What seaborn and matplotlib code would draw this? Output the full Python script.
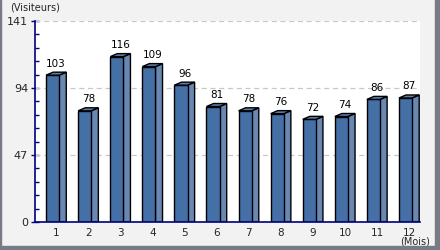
import matplotlib
matplotlib.use("Agg")
import matplotlib.pyplot as plt
from matplotlib.patches import Polygon, Rectangle
from matplotlib.ticker import MultipleLocator, FixedLocator
import seaborn as sns
import pandas as pd

months = ["1", "2", "3", "4", "5", "6", "7", "8", "9", "10", "11", "12"]
visitors = [103, 78, 116, 109, 96, 81, 78, 76, 72, 74, 86, 87]
y_ticks = [0, 47, 94, 141]

sns.set_style("white")
plt.rcParams["font.family"] = ["DejaVu Sans"]

W, H = 440, 250
fig = plt.figure(figsize=(W / 100, H / 100), dpi=100, facecolor="#f2f2f2")
ax = fig.add_axes([35 / W, (H - 222) / H, (420 - 35) / W, (222 - 21) / H])
ax.set_facecolor("white")

df = pd.DataFrame({"Mois": months, "Visiteurs": visitors})
front_w = 0.41
depth_x = 0.22
depth_y = 3 * 141 / 200
sns.barplot(data=df, x="Mois", y="Visiteurs", ax=ax, width=front_w,
            color="#4570a6", saturation=1, edgecolor="black", linewidth=1.0, zorder=3)

side_col = "#6887b2"
top_col = "#5a7db0"
for p, v in zip(ax.patches, visitors):
    # shift front face left so the whole 3D block is centred on its category
    p.set_x(p.get_x() - depth_x / 2)
    x0 = p.get_x()
    x1 = x0 + p.get_width()
    side = Polygon([(x1, 0), (x1 + depth_x, 0), (x1 + depth_x, v + depth_y), (x1, v)],
                   closed=True, facecolor=side_col, edgecolor="black", linewidth=1.0, zorder=2.9)
    top = Polygon([(x0, v), (x1, v), (x1 + depth_x, v + depth_y), (x0 + depth_x, v + depth_y)],
                  closed=True, facecolor=top_col, edgecolor="black", linewidth=1.0, zorder=3.1)
    ax.add_patch(side)
    ax.add_patch(top)
    ax.text((x0 + x1 + depth_x) / 2, v + depth_y + 2.5, str(v), ha="center", va="bottom",
            fontsize=7.5, color="black", zorder=4)

ax.set_xlim(-0.66, len(months) - 1 + 0.34)
ax.set_ylim(0, 141)
ax.yaxis.set_major_locator(FixedLocator(y_ticks))
ax.yaxis.set_minor_locator(MultipleLocator(9.4))
ax.set_yticklabels([str(t) for t in y_ticks])
ax.set_xlabel("")
ax.set_ylabel("")

for t in y_ticks[1:]:
    ax.axhline(t, color="#c8c8c8", linestyle=(0, (4, 3)), linewidth=0.9, zorder=1)

for s in ["top", "right"]:
    ax.spines[s].set_visible(False)
for s in ["left", "bottom"]:
    ax.spines[s].set_color("#000080")
    ax.spines[s].set_linewidth(1.2)
    ax.spines[s].set_zorder(5)

ax.tick_params(axis="y", which="major", left=True, direction="inout", length=6, width=1,
               color="#000080", labelsize=8, pad=2)
ax.tick_params(axis="y", which="minor", left=True, direction="in", length=3, width=1,
               color="#000080")
ax.tick_params(axis="x", which="major", bottom=False, length=0, labelsize=7.5, pad=4)

fig.text(10 / W, 1 - 8 / H, "(Visiteurs)", fontsize=7, ha="left", va="center")
fig.text(430 / W, 1 - 242 / H, "(Mois)", fontsize=7, ha="right", va="center")

# outer frame
fig.patches.append(Rectangle((0, 0), 1 / W, 1, transform=fig.transFigure, color="#7a7a84", zorder=10))
fig.patches.append(Rectangle((1 - 5 / W, 0), 5 / W, 1, transform=fig.transFigure, color="#7a7a84", zorder=10))
fig.patches.append(Rectangle((0, 0), 1, 4 / H, transform=fig.transFigure, color="#7a7a84", zorder=10))

fig.savefig("out.png", dpi=100, facecolor=fig.get_facecolor())
